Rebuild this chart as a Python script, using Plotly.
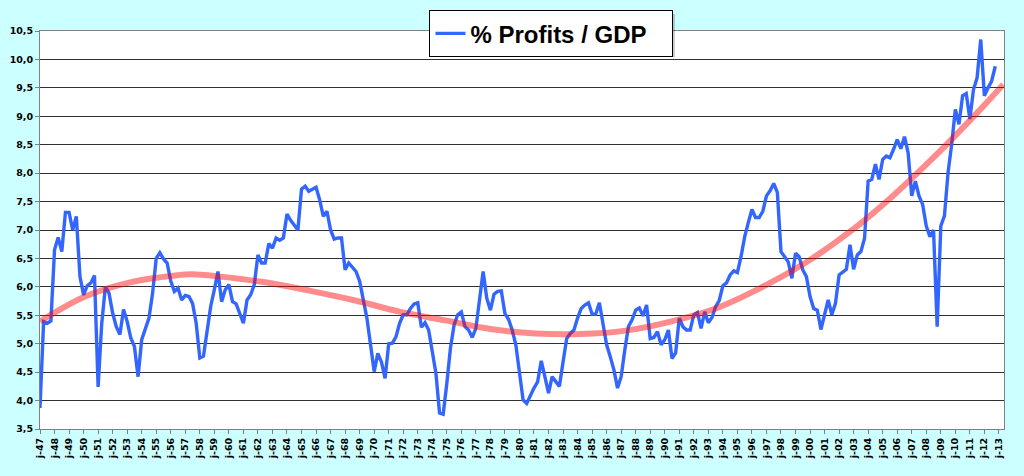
import plotly.graph_objects as go

# ---------------- data ----------------
start_year = 1947  # first quarter of the series (quarterly data)

profits_gdp = [
    3.87, 5.39, 5.36, 5.40,   # 1947
    6.65, 6.87, 6.62, 7.31,   # 1948
    7.31, 7.00, 7.24, 6.18,   # 1949
    5.86, 6.02, 6.07, 6.20,   # 1950
    4.24, 5.36, 6.00, 5.89,   # 1951
    5.54, 5.30, 5.16, 5.60,   # 1952
    5.39, 5.10, 4.95, 4.42,   # 1953
    5.07, 5.25, 5.45, 5.89,   # 1954
    6.50, 6.60, 6.49, 6.42,   # 1955
    6.10, 5.92, 5.98, 5.77,   # 1956
    5.85, 5.83, 5.71, 5.36,   # 1957
    4.75, 4.78, 5.22, 5.66,   # 1958
    5.95, 6.27, 5.74, 5.95,   # 1959
    6.04, 5.74, 5.70, 5.54,   # 1960
    5.36, 5.77, 5.86, 6.04,   # 1961
    6.56, 6.42, 6.42, 6.76,   # 1962
    6.68, 6.86, 6.82, 6.86,   # 1963
    7.28, 7.17, 7.09, 7.00,   # 1964
    7.72, 7.77, 7.68, 7.72,   # 1965
    7.75, 7.53, 7.24, 7.33,   # 1966
    7.00, 6.84, 6.86, 6.86,   # 1967
    6.30, 6.42, 6.35, 6.27,   # 1968
    6.10, 5.80, 5.45, 4.98,   # 1969
    4.51, 4.83, 4.68, 4.39,   # 1970
    5.00, 5.01, 5.12, 5.36,   # 1971
    5.51, 5.51, 5.62, 5.70,   # 1972
    5.72, 5.29, 5.37, 5.24,   # 1973
    4.86, 4.48, 3.78, 3.76,   # 1974
    4.30, 4.92, 5.33, 5.51,   # 1975
    5.56, 5.30, 5.24, 5.11,   # 1976
    5.27, 5.83, 6.27, 5.80,   # 1977
    5.59, 5.87, 5.92, 5.93,   # 1978
    5.53, 5.43, 5.24, 4.98,   # 1979
    4.48, 4.01, 3.95, 4.10,   # 1980
    4.22, 4.33, 4.70, 4.42,   # 1981
    4.13, 4.42, 4.33, 4.25,   # 1982
    4.68, 5.09, 5.18, 5.24,   # 1983
    5.45, 5.62, 5.68, 5.72,   # 1984
    5.52, 5.52, 5.72, 5.36,   # 1985
    4.98, 4.77, 4.54, 4.22,   # 1986
    4.42, 4.89, 5.30, 5.42,   # 1987
    5.59, 5.63, 5.49, 5.68,   # 1988
    5.09, 5.11, 5.21, 4.98,   # 1989
    5.07, 5.24, 4.74, 4.84,   # 1990
    5.45, 5.30, 5.24, 5.24,   # 1991
    5.51, 5.55, 5.27, 5.56,   # 1992
    5.37, 5.46, 5.65, 5.76,   # 1993
    6.02, 6.07, 6.21, 6.28,   # 1994
    6.25, 6.53, 6.88, 7.13,   # 1995
    7.36, 7.22, 7.22, 7.33,   # 1996
    7.60, 7.69, 7.82, 7.66,   # 1997
    6.62, 6.53, 6.44, 6.15,   # 1998
    6.59, 6.53, 6.30, 6.18,   # 1999
    5.83, 5.62, 5.59, 5.25,   # 2000
    5.51, 5.77, 5.51, 5.71,   # 2001
    6.21, 6.27, 6.31, 6.74,   # 2002
    6.31, 6.56, 6.62, 6.85,   # 2003
    7.86, 7.89, 8.16, 7.89,   # 2004
    8.24, 8.30, 8.27, 8.42,   # 2005
    8.59, 8.43, 8.64, 8.36,   # 2006
    7.60, 7.86, 7.60, 7.45,   # 2007
    7.07, 6.88, 7.00, 5.30,   # 2008
    7.07, 7.25, 8.01, 8.51,   # 2009
    9.12, 8.86, 9.36, 9.40,   # 2010
    8.95, 9.47, 9.68, 10.35,  # 2011
    9.36, 9.50, 9.62, 9.88,   # 2012
]

# polynomial trend line
trend_years = [1947.0, 1950.1, 1953.2, 1956.3, 1957.5, 1959.4, 1962.5, 1965.6,
               1968.7, 1971.8, 1974.9, 1978.0, 1981.1, 1984.2, 1987.3, 1990.4,
               1993.5, 1996.5, 1999.6, 2002.75, 2005.7, 2008.8, 2011.9, 2013.3]
trend_values = [5.39, 5.83, 6.08, 6.20, 6.22, 6.18, 6.08, 5.93,
                5.76, 5.56, 5.41, 5.26, 5.18, 5.17, 5.23, 5.39,
                5.62, 5.97, 6.41, 6.97, 7.60, 8.35, 9.17, 9.56]

tick_years = list(range(1947, 2014))
tick_labels = ["j-%02d" % (y % 100) for y in tick_years]

series_name = "% Profits / GDP"

# ---------------- figure ----------------
x_quarters = [start_year + i / 4 for i in range(len(profits_gdp))]

fig = go.Figure()
fig.add_trace(go.Scatter(
    x=x_quarters, y=profits_gdp, mode="lines",
    name=series_name + "\u00a0\u00a0\u00a0",
    line=dict(color="#3366FF", width=3.4),
))
fig.add_trace(go.Scatter(
    x=trend_years, y=trend_values, mode="lines", showlegend=False,
    line=dict(color="rgba(255,0,0,0.45)", width=6, shape="spline"),
    hoverinfo="skip",
))

tick_font = dict(family="DejaVu Sans", size=9.5, color="black", weight="bold")

fig.update_layout(
    width=1024, height=476,
    margin=dict(l=40, r=20, t=31, b=47, pad=0, autoexpand=False),
    paper_bgcolor="#CCFFFF",
    plot_bgcolor="white",
    separators=",.",
    showlegend=True,
    legend=dict(
        x=0.404, y=1.052, xanchor="left", yanchor="top",
        bgcolor="white", bordercolor="black", borderwidth=1,
        font=dict(family="Liberation Sans, Arial", size=24, color="black", weight="bold"),
        itemwidth=30,
    ),
    xaxis=dict(
        range=[1947, 2013.35],
        tickvals=tick_years, ticktext=tick_labels, tickangle=-90,
        ticks="outside", ticklen=4, tickcolor="#808080",
        showgrid=False, zeroline=False,
        showline=True, linecolor="#808080", linewidth=1, mirror=True,
        tickfont=tick_font, automargin=False,
    ),
    yaxis=dict(
        range=[3.5, 10.5], tick0=3.5, dtick=0.5, tickformat=".1f",
        ticks="outside", ticklen=4, tickcolor="#808080",
        showgrid=True, gridcolor="#303030", gridwidth=1, zeroline=False,
        showline=True, linecolor="#808080", linewidth=1, mirror=True,
        tickfont=tick_font, automargin=False,
    ),
    shapes=[dict(
        type="rect", xref="paper", yref="paper",
        x0=0.4066, x1=0.6587, y0=0.9347, y1=1.0427,
        fillcolor="rgba(0,0,0,0.2)", line=dict(width=0), layer="above",
    )],
)

fig.write_html(
    "out.html",
    config={"displayModeBar": False},
    post_script="document.body.style.margin='0';document.body.style.background='#CCFFFF';",
)
